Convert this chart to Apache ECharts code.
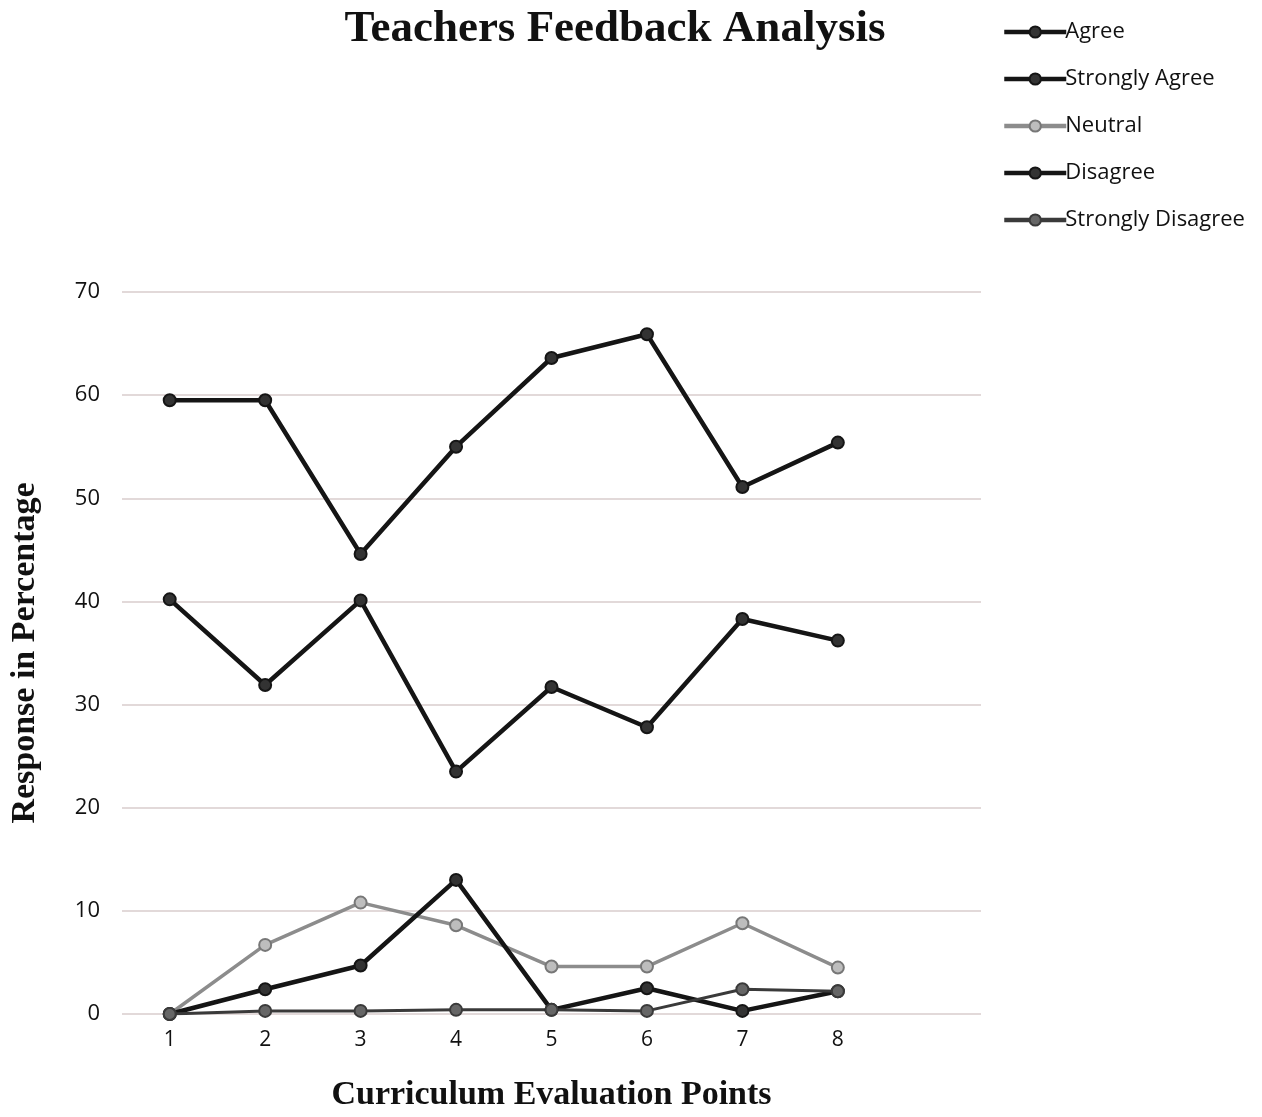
<!DOCTYPE html>
<html>
<head>
<meta charset="utf-8">
<script src="https://cdn.jsdelivr.net/npm/echarts@6/dist/echarts.min.js"></script>
<style>html,body{margin:0;padding:0;background:#fff;}#c{width:1262px;height:1117px;}</style>
</head>
<body>
<div id="c"></div>
<script>
const categories = ['1','2','3','4','5','6','7','8',''];
const yTicks = [0,10,20,30,40,50,60,70];
const agree = [59.5, 59.5, 44.6, 55.0, 63.6, 65.9, 51.1, 55.4];
const stronglyAgree = [40.2, 31.9, 40.1, 23.5, 31.7, 27.8, 38.3, 36.2];
const neutral = [0, 6.7, 10.8, 8.6, 4.6, 4.6, 8.8, 4.5];
const disagree = [0, 2.4, 4.7, 13.0, 0.4, 2.5, 0.3, 2.2];
const stronglyDisagree = [0, 0.3, 0.3, 0.4, 0.4, 0.3, 2.4, 2.2];
const seriesNames = ['Agree','Strongly Agree','Neutral','Disagree','Strongly Disagree'];

const chart = echarts.init(document.getElementById('c'), null, {renderer:'canvas'});
function mk(name, data, lineColor, width, fill, border, size) {
  return {
    name: name, type: 'line', data: data,
    symbol: 'circle', symbolSize: size,
    lineStyle: {color: lineColor, width: width},
    itemStyle: {color: fill, borderColor: border, borderWidth: 2},
    emphasis: {disabled: true},
    z: 3
  };
}
chart.setOption({
  backgroundColor: '#ffffff',
  animation: false,
  title: {
    text: 'Teachers Feedback Analysis',
    left: 610, top: 2, textAlign: 'center',
    textStyle: {fontFamily: 'Liberation Serif', fontWeight: 'bold', fontSize: 45, color: '#111'}
  },
  legend: {
    orient: 'vertical', left: 997, top: 16,
    itemWidth: 62, itemHeight: 14, itemGap: 25,
    lineStyle: {width: 4.5},
    textStyle: {fontFamily: 'Open Sans', fontSize: 22, color: '#111', padding: [0,0,0,-6]},
    data: seriesNames
  },
  grid: {left: 120, right: 281, top: 292, bottom: 97, containLabel: false},
  xAxis: {
    type: 'category', data: categories, boundaryGap: true,
    name: 'Curriculum Evaluation Points', nameLocation: 'middle', nameGap: 64,
    nameTextStyle: {fontFamily: 'Liberation Serif', fontWeight: 'bold', fontSize: 34, color: '#111'},
    axisLine: {show: false}, axisTick: {show: false},
    axisLabel: {fontFamily: 'Open Sans', fontSize: 21, color: '#111', margin: 16}
  },
  yAxis: {
    type: 'value', min: 0, max: 70, interval: 10,
    name: 'Response in Percentage', nameLocation: 'middle', nameGap: 80,
    nameTextStyle: {fontFamily: 'Liberation Serif', fontWeight: 'bold', fontSize: 34, color: '#111'},
    axisLine: {show: false}, axisTick: {show: false},
    axisLabel: {fontFamily: 'Open Sans', fontSize: 22, color: '#111', margin: 22,
      formatter: function(v){ return yTicks.indexOf(v) >= 0 ? String(v) : ''; }},
    splitLine: {show: true, lineStyle: {color: '#d9cccc', width: 1.5}}
  },
  series: [
    mk('Agree', agree, '#151515', 4.5, '#333', '#151515', 12),
    mk('Strongly Agree', stronglyAgree, '#151515', 4.5, '#333', '#151515', 12),
    mk('Neutral', neutral, '#8c8c8c', 3.5, '#bdbdbd', '#777', 12),
    mk('Disagree', disagree, '#151515', 4.5, '#333', '#151515', 12),
    mk('Strongly Disagree', stronglyDisagree, '#3a3a3a', 3, '#666', '#3a3a3a', 12)
  ]
});
</script>
</body>
</html>
